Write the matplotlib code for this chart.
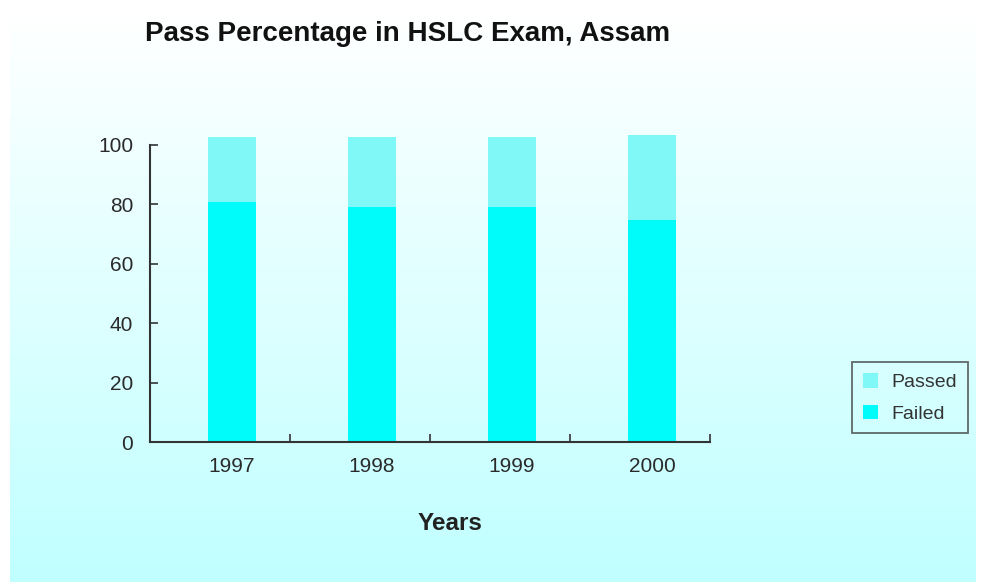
import numpy as np
from matplotlib import pyplot as plt

plt.rcParams['font.family'] = ['Liberation Sans', 'DejaVu Sans']

years = ['1997', '1998', '1999', '2000']
failed = [80.9, 79.1, 79.1, 74.7]
passed = [21.8, 23.6, 23.7, 28.7]

col_failed = '#00FBFB'
col_passed = '#80F8F8'
ink = '#333333'

fig = plt.figure(figsize=(9.85, 5.82), dpi=100)

# fondo con degradado blanco -> cian
bg = fig.add_axes([10/985, 0, 965/985, 567/582], zorder=-10)
grad = np.linspace(0, 1, 256).reshape(-1, 1)
c_top = np.array([1.0, 1.0, 1.0])
c_bot = np.array([0xC0, 0xFF, 0xFF]) / 255
img = c_top + (c_bot - c_top) * grad[:, :, None]
bg.imshow(img, aspect='auto', extent=[0, 1, 0, 1])
bg.axis('off')

ax = fig.add_axes([150/985, 1 - 442/582, 560/985, 309/582])
ax.patch.set_alpha(0)
x = np.arange(len(years))
ax.bar(x, failed, width=0.34, color=col_failed, label='Failed')
ax.bar(x, passed, width=0.34, bottom=failed, color=col_passed, label='Passed')

ax.set_xlim(-0.586, 3.414)
ax.set_ylim(0, 104)
ax.set_yticks([0, 20, 40, 60, 80, 100])
ax.set_xticks(x)
ax.set_xticklabels(years)
ax.set_xticks([0.414, 1.414, 2.414, 3.414], minor=True)
ax.tick_params(axis='x', which='major', length=0, pad=11, labelsize=15, colors='#2a2a2a')
ax.tick_params(axis='x', which='minor', direction='in', length=6, width=1.2, color=ink)
ax.tick_params(axis='y', direction='in', length=6, width=1.2, color=ink, pad=12,
               labelsize=15, labelcolor='#2a2a2a')
ax.spines['left'].set_bounds(0, 100)
for s in ['top', 'right']:
    ax.spines[s].set_visible(False)
for s in ['left', 'bottom']:
    ax.spines[s].set_color(ink)
    ax.spines[s].set_linewidth(1.5)

ax.set_xlabel('Years', fontsize=17.5, fontweight='bold', color='#222222')
ax.xaxis.set_label_coords((450 - 150) / 560, -0.225)

h, l = ax.get_legend_handles_labels()
leg = fig.legend(h[::-1], l[::-1], loc='upper left', bbox_to_anchor=(852/985, 1 - 362/582),
                 fontsize=14, frameon=True, fancybox=False, handlelength=0.8, handleheight=0.8,
                 handletextpad=0.7, borderpad=0.55, labelspacing=0.7, borderaxespad=0)
leg.get_frame().set_edgecolor('#444444')
leg.get_frame().set_facecolor('none')
leg.get_frame().set_linewidth(1.3)
for t in leg.get_texts():
    t.set_color('#333333')

fig.text(408/985, 1 - 34/582, 'Pass Percentage in HSLC Exam, Assam', ha='center', va='center',
         fontsize=20, fontweight='bold', color='#111111')

plt.savefig('out.png', dpi=100)
